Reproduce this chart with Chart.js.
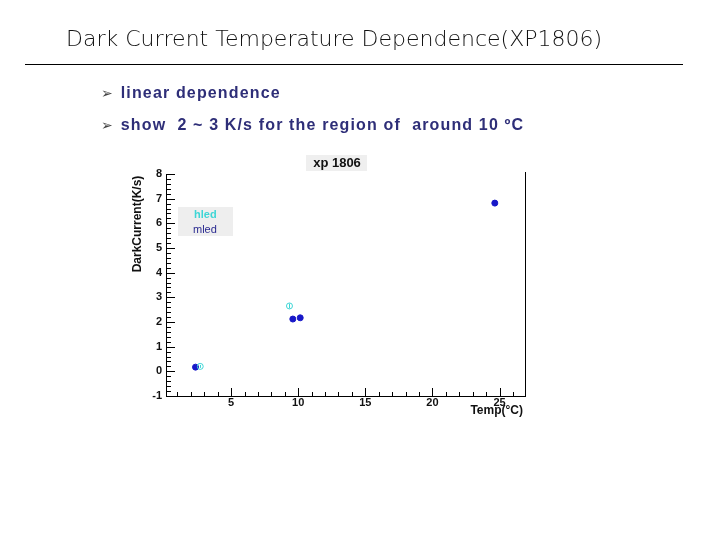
<!DOCTYPE html>
<html>
<head>
<meta charset="utf-8">
<script src="https://cdn.jsdelivr.net/npm/chart.js@4.4.0/dist/chart.umd.min.js"></script>
<style>
	html, body { margin: 0; padding: 0; background: #fff; }
	#page { position: relative; width: 720px; height: 540px; overflow: hidden; }
	#chart { position: absolute; left: 0; top: 0; }
	.slide-title {
		position: absolute; left: 66px; top: 26px;
		font-family: "DejaVu Sans", sans-serif; font-weight: 200; font-size: 22px;
		color: #111; white-space: nowrap;
	}
	.slide-rule { position: absolute; left: 25px; top: 64px; width: 658px; height: 1px; background: #000; }
	.bullet {
		position: absolute; left: 101px;
		font-family: "Liberation Sans", sans-serif; font-weight: bold; font-size: 16px;
		letter-spacing: 1.15px;
		color: #2e2e78; white-space: nowrap;
	}
	.bullet span { font-family: "DejaVu Sans", sans-serif; font-weight: normal; color: #444; font-size: 14px; margin-right: 8px; letter-spacing: 0; }
</style>
</head>
<body>
<div id="page">
	<canvas id="chart" width="720" height="540"></canvas>
	<div class="slide-title">Dark Current Temperature Dependence(XP1806)</div>
	<div class="slide-rule"></div>
	<div class="bullet" style="top:84px"><span>➢</span>linear dependence</div>
	<div class="bullet" style="top:116px"><span>➢</span>show&nbsp; 2 ~ 3 K/s for the region of&nbsp; around 10 ºC</div>
</div>
<script>
	// data
	const hledTemp = [2.7, 9.35];
	const hledCurrent = [0.2, 2.65];
	const hledError = [0.06, 0.1];

	const mledTemp = [2.35, 9.6, 10.15, 24.65];
	const mledCurrent = [0.17, 2.12, 2.17, 6.82];
	const mledError = [0.03, 0.05, 0.05, 0.12];

	const xTickLabels = [5, 10, 15, 20, 25];
	const yTickLabels = [-1, 0, 1, 2, 3, 4, 5, 6, 7, 8];

	const plotTitle = "xp 1806";
	const xTitle = "Temp(°C)";
	const yTitle = "DarkCurrent(K/s)";

	function points(xs, ys) {
		return xs.map((x, i) => ({x: x, y: ys[i]}));
	}

	const errors = [hledError, mledError];

	const frame = {
		id: 'frame',
		afterDatasetsDraw(chart) {
			const {ctx, chartArea, scales} = chart;
			const x = scales.x, y = scales.y;
			ctx.save();
			ctx.strokeStyle = '#000';
			ctx.lineWidth = 1;

			// right border
			ctx.beginPath();
			ctx.moveTo(Math.round(chartArea.right) + 0.5, chartArea.top - 2);
			ctx.lineTo(Math.round(chartArea.right) + 0.5, chartArea.bottom);
			ctx.stroke();

			// ticks inside the frame
			ctx.beginPath();
			for (let i = 0; i <= 45; i++) {
				const v = -1 + i * 0.2;
				const py = Math.round(y.getPixelForValue(v)) + 0.5;
				const len = i % 5 == 0 ? 9 : 5;
				ctx.moveTo(chartArea.left, py);
				ctx.lineTo(chartArea.left + len, py);
			}
			for (let v = 1; v <= 26; v++) {
				const px = Math.round(x.getPixelForValue(v)) + 0.5;
				const len = v % 5 == 0 ? 8 : 4;
				ctx.moveTo(px, chartArea.bottom);
				ctx.lineTo(px, chartArea.bottom - len);
			}
			ctx.stroke();

			// error bars
			chart.data.datasets.forEach((ds, d) => {
				ctx.strokeStyle = ds.borderColor;
				ctx.beginPath();
				ds.data.forEach((p, i) => {
					const px = Math.round(x.getPixelForValue(p.x)) + 0.5;
					ctx.moveTo(px, y.getPixelForValue(p.y - errors[d][i]));
					ctx.lineTo(px, y.getPixelForValue(p.y + errors[d][i]));
				});
				ctx.stroke();
			});

			// plot title
			ctx.fillStyle = '#efefef';
			ctx.fillRect(306, 155, 61, 16);
			ctx.fillStyle = '#111';
			ctx.font = 'bold 13px "Liberation Sans"';
			ctx.textAlign = 'center';
			ctx.textBaseline = 'middle';
			ctx.fillText(plotTitle, 337, 163);

			// legend
			ctx.fillStyle = '#eeeeee';
			ctx.fillRect(178, 207, 55, 29);
			ctx.textAlign = 'left';
			ctx.font = 'bold 11px "Liberation Sans"';
			ctx.fillStyle = chart.data.datasets[0].borderColor;
			ctx.fillText(chart.data.datasets[0].label, 194, 214.5);
			ctx.font = '11px "Liberation Sans"';
			ctx.fillStyle = '#2a2a90';
			ctx.fillText(chart.data.datasets[1].label, 193, 229.5);

			// axis titles
			ctx.fillStyle = '#111';
			ctx.font = 'bold 12px "Liberation Sans"';
			ctx.textAlign = 'right';
			ctx.fillText(xTitle, 523, 410.5);
			ctx.translate(137.5, 224);
			ctx.rotate(-Math.PI / 2);
			ctx.textAlign = 'center';
			ctx.fillText(yTitle, 0, 0);
			ctx.restore();
		}
	};

	const ctx = document.getElementById('chart').getContext('2d');

	new Chart(ctx, {
		type: 'scatter',
		data: {
			datasets: [
				{
					label: 'hled',
					data: points(hledTemp, hledCurrent),
					borderColor: '#3fd6d6',
					backgroundColor: 'rgba(255,255,255,0)',
					borderWidth: 1,
					pointRadius: 3,
				},
				{
					label: 'mled',
					data: points(mledTemp, mledCurrent),
					borderColor: '#1818c8',
					backgroundColor: '#1818c8',
					borderWidth: 1,
					pointRadius: 3,
				}
			]
		},
		options: {
			responsive: false,
			animation: false,
			layout: {
				padding: {left: 126, right: 195, top: 174, bottom: 114}
			},
			plugins: {
				legend: {display: false},
				tooltip: {enabled: false},
				title: {display: false}
			},
			scales: {
				x: {
					type: 'linear',
					min: 0.15,
					max: 26.9,
					afterBuildTicks: scale => { scale.ticks = xTickLabels.map(v => ({value: v})); },
					afterFit: scale => { scale.height = 30; },
					grid: {display: false, drawTicks: false},
					border: {display: true, color: '#000', width: 1},
					ticks: {
						padding: 0,
						color: '#111',
						font: {family: 'Liberation Sans', weight: 'bold', size: 11},
						maxRotation: 0
					}
				},
				y: {
					type: 'linear',
					min: -1,
					max: 8,
					afterBuildTicks: scale => { scale.ticks = yTickLabels.map(v => ({value: v})); },
					afterFit: scale => { scale.width = 40; },
					grid: {display: false, drawTicks: false},
					border: {display: true, color: '#000', width: 1},
					ticks: {
						padding: 4,
						color: '#111',
						font: {family: 'Liberation Sans', weight: 'bold', size: 11}
					}
				}
			}
		},
		plugins: [frame]
	});
</script>
</body>
</html>
